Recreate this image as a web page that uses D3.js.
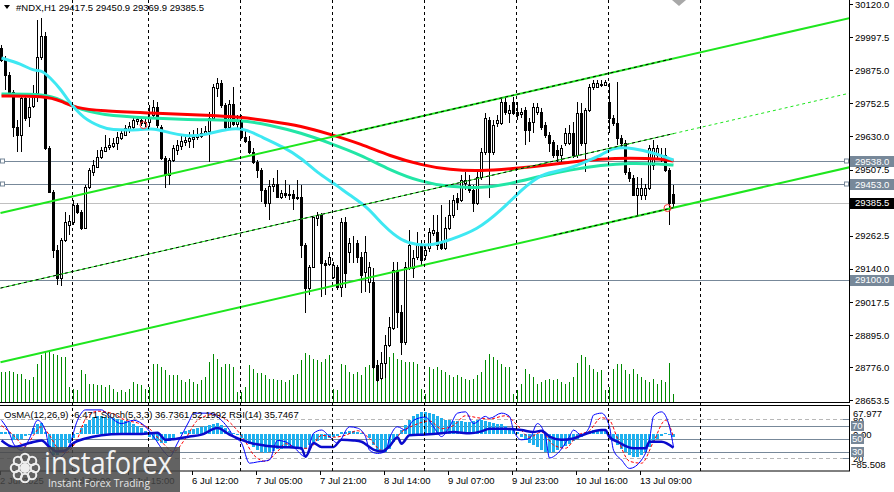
<!DOCTYPE html>
<html>
<head>
<meta charset="utf-8">
<script src="https://cdn.jsdelivr.net/npm/d3@7"></script>
<style>
html,body{margin:0;padding:0;background:#fff;}
svg{display:block;font-family:"Liberation Sans",Arial,sans-serif;}
</style>
</head>
<body>
<div id="chart"></div>
<script>
// ---- data ----
var opens = [29957,29913,29857,29794,29665,29635,29772,29702,29743,29791,
29924,30002,29587,29424,29210,29106,29247,29302,29313,29376,
29350,29291,29443,29498,29517,29554,29576,29591,29595,29606,
29624,29635,29658,29665,29687,29691,29680,29683,29709,29739,
29665,29550,29487,29543,29580,29595,29609,29613,29620,29628,
29632,29643,29650,29698,29809,29828,29746,29665,29750,29676,
29687,29628,29613,29572,29535,29506,29432,29384,29447,29454,
29406,29421,29413,29417,29402,29406,29228,29069,29147,29328,
29339,29162,29158,29110,29147,29073,29313,29202,29236,29236,
29184,29128,29091,29091,28784,28736,28792,28858,28921,29136,
28980,28869,29143,29143,29184,29228,29191,29217,29272,29276,
29236,29217,29291,29339,29402,29395,29458,29450,29432,29384,
29480,29572,29691,29572,29680,29680,29757,29717,29757,29720,
29713,29728,29683,29683,29720,29720,29672,29635,29609,29580,
29561,29606,29606,29643,29561,29717,29606,29728,29813,29813,
29820,29820,29757,29698,29680,29624,29606,29498,29476,29413,
29413,29413,29439,29524,29561,29580,29561,29506,29417.5];
var highs = [29968,29928,29868,29802,29691,29780,29791,29772,29820,30061,
30068,30016,29595,29432,29228,29254,29350,29339,29395,29384,
29358,29450,29513,29543,29580,29591,29635,29624,29624,29646,
29654,29672,29683,29702,29706,29702,29698,29746,29765,29757,
29672,29558,29550,29598,29617,29632,29635,29646,29654,29661,
29661,29668,29720,29824,29846,29839,29754,29765,29813,29709,
29709,29654,29632,29587,29543,29513,29439,29469,29476,29506,
29432,29469,29450,29432,29469,29450,29236,29154,29332,29350,
29347,29173,29202,29165,29154,29328,29332,29254,29261,29247,
29202,29261,29165,29143,28803,28832,28895,28963,29165,29165,
29006,29165,29284,29210,29276,29247,29228,29291,29339,29339,
29376,29332,29395,29413,29420,29487,29498,29487,29450,29498,
29587,29717,29702,29691,29709,29772,29772,29746,29776,29757,
29735,29739,29698,29754,29754,29735,29683,29646,29617,29598,
29598,29661,29672,29683,29757,29754,29735,29824,29839,29839,
29839,29839,29828,29709,29831,29635,29617,29513,29487,29480,
29476,29454,29598,29617,29598,29587,29587,29513,29450.9];
var lows = [29905,29802,29787,29628,29573,29573,29687,29665,29735,29757,
29913,29580,29421,29180,29080,29077,29239,29265,29302,29343,
29284,29288,29436,29484,29513,29547,29572,29580,29587,29580,
29617,29632,29643,29654,29672,29669,29665,29665,29698,29661,
29543,29439,29450,29535,29561,29580,29595,29587,29587,29617,
29624,29635,29535,29691,29776,29735,29654,29654,29669,29661,
29621,29606,29565,29528,29476,29387,29369,29321,29424,29402,
29399,29402,29395,29358,29395,29180,28977,29043,29143,29298,
29036,29043,29150,29103,29062,29036,29069,29162,29162,29162,
29051,29054,29051,28770,28721,28729,28736,28851,28914,28921,
28821,28858,29135,29106,29173,29154,29173,29202,29261,29210,
29210,29210,29284,29328,29358,29387,29432,29421,29350,29376,
29469,29561,29402,29561,29665,29672,29709,29680,29709,29691,
29698,29598,29609,29643,29709,29654,29624,29573,29550,29535,
29535,29595,29598,29550,29550,29595,29498,29720,29802,29809,
29813,29817,29643,29669,29598,29587,29487,29461,29413,29339,
29395,29395,29432,29506,29550,29535,29498,29302,29369.9];
var closes = [29913,29857,29794,29665,29635,29772,29698,29739,29791,29924,
30002,29587,29424,29210,29106,29247,29313,29317,29376,29350,
29291,29443,29506,29524,29554,29580,29591,29598,29606,29628,
29643,29661,29669,29691,29695,29680,29683,29698,29739,29672,
29550,29487,29543,29587,29598,29613,29617,29624,29628,29635,
29643,29650,29698,29813,29828,29746,29665,29750,29676,29687,
29628,29613,29572,29535,29506,29432,29384,29447,29454,29406,
29421,29413,29417,29402,29406,29228,29069,29147,29332,29339,
29162,29154,29184,29154,29073,29313,29125,29236,29236,29184,
29117,29202,29147,28777,28729,28792,28858,28925,29136,28980,
28869,29147,29228,29180,29228,29173,29210,29276,29284,29228,
29217,29291,29339,29395,29387,29469,29469,29432,29384,29480,
29572,29698,29572,29673,29691,29757,29720,29728,29717,29709,
29720,29654,29654,29739,29739,29665,29635,29606,29561,29561,
29587,29643,29643,29561,29717,29606,29728,29813,29828,29828,
29824,29831,29698,29680,29624,29606,29498,29476,29413,29439,
29439,29439,29587,29587,29587,29580,29506,29384,29385.5];
var volumes = [3000,3000,3070,3000,2830,2830,2330,2170,2500,3830,
4670,5000,5000,4830,4670,4500,4500,1500,1330,1170,
3170,2830,1830,1830,1670,1670,1500,1670,1330,1000,
1170,1000,1330,2000,1830,1670,1330,1500,3830,3830,
3500,3170,2670,2670,2670,2170,2000,2330,2000,1830,
2170,2500,4000,4830,4330,3500,3830,3830,3500,1000,
1000,1500,3670,3330,2900,2900,2670,2330,2330,2170,
2170,2000,2170,2670,2830,4170,4900,4670,4330,4170,
4000,4330,4670,1330,1170,3830,3670,3000,2830,3000,
2670,3500,3670,3500,3170,2830,3830,4500,4900,4330,
4170,4000,4000,4000,3830,1330,830,3500,3330,3500,
3170,3000,2670,2500,2670,2500,2330,2170,2330,2670,
3000,4170,4830,4500,4170,3830,3500,3500,830,1170,
1830,3330,2830,2500,1830,2000,2170,2330,2170,2330,
2000,1830,2000,2500,3900,4670,4500,3670,3330,3000,
3170,1170,1500,3330,3830,3830,3170,2830,3330,2830,
2500,2170,2000,2330,1830,2170,2000,3900,830];

// moving averages, sampled along the bars
var maSlowIdx = [0,11,15,18.5,25,37,50,60,67,75,82,90,97,105,112,120,127,135,142,150,157,165,168];
var maSlow = [29780,29780,29761,29735,29724,29717,29709,29702,29687,29669,29639,29602,29558,29524,29506,29502,29510,29521,29535,29547,29550,29547,29539];
var maMid = [29787,29787,29765,29735,29709,29698,29691,29691,29672,29643,29606,29561,29506,29461,29443,29439,29454,29484,29506,29524,29532,29528,29524];
var maFastIdx = [0,5,8,10,12,15,16.5,20.5,25,27,35,38,42,46,50,57,61,65,70.5,75,79,83,87,91.5,95.5,100,104,108,112,119,125,130,135,141.5,147,150,153,158,163,168];
var maFast = [29920,29898,29872,29876,29850,29802,29765,29695,29665,29654,29654,29661,29643,29632,29632,29661,29658,29628,29591,29550,29495,29458,29413,29369,29299,29243,29228,29228,29247,29284,29358,29432,29495,29506,29543,29561,29591,29587,29569,29543];

// drawn objects
var chanIdx = [-0.25, 212];
var chanUpper = [29347, 30068];
var chanMiddle = [29069, 29790];
var chanLower = [28795, 29516];
var hLevels = [29538.0, 29453.0, 29100.0];
var lastPrice = 29385.5;
var fractalIdx = [35.5, 166.5];
var fractalVal = [29672, 29365];

// oscillators
var osma = [6,6,5,-13,-13,-10,-3,-2,15,24,27,6,-31,-48,-48,-41,-31,-20,-8,3,
15,24,34,41,43,43,41,38,38,36,34,31,29,24,20,15,8,-6,-10,-15,
-20,-20,-15,-8,1,6,8,10,13,15,17,20,22,24,27,22,15,8,3,-1,
-8,-15,-22,-29,-36,-41,-43,-41,-38,-34,-34,-31,-29,-31,-34,-36,-34,-24,-17,-15,
-13,-10,-8,-6,-3,6,6,8,8,6,3,1,-8,-24,-36,-41,-41,-34,-17,-3,
10,22,34,43,48,52,52,50,48,43,38,34,34,31,31,31,29,29,31,34,
34,31,29,27,24,24,20,15,10,6,-6,-13,-20,-24,-29,-36,-41,-43,-41,-36,
-31,-27,-22,-15,-10,-6,-1,8,10,10,10,8,-6,-15,-24,-34,-41,-48,-52,-52,
-48,-41,-29,-17,-10,-5,2,-2,-6.471];
var stochIdx = [0,2,3,5,7,9,11,12,14,17,19,21,25,27,30,33,36,38,41,42,44,47,48,52,55,57,58,60,62,64,67,69,71,73,76,78,80,82,84,87,89,91,92,94,96,97,99,101,103,106,108,110,112,114,116,118,121,122,125,127,128,130,132,134,136,137,139,142,143,145,147,148,150,152,153,155,157,160,162,163,165,167,168];
var stochMain = [78,58,42,32,50,78,62,32,20,40,78,94,94,84,73,78,68,53,27,22,43,78,89,89,78,63,53,43,12,14,17,47,45,37,22,58,63,53,43,68,66,53,32,27,30,50,68,63,78,83,68,53,68,89,91,73,84,81,89,84,63,48,50,73,53,20,27,53,63,55,68,86,89,68,32,17,4,17,48,84,91,68,36.7361];
var signalIdx = [0,3,6,8,10,12,14,16,19,21,24,28,31,34,37,40,43,46,49,53,56,59,61,63,66,69,71,74,77,80,83,86,89,92,95,98,100,103,107,110,113,116,119,122,126,129,132,135,138,141,144,147,150,152,154,157,160,163,166,168];
var stochSignal = [70,55,38,55,68,55,35,28,50,80,92,88,78,74,65,45,30,50,78,87,80,62,45,25,15,30,42,35,35,55,52,55,62,50,32,45,60,70,77,65,70,85,82,80,85,70,52,60,40,35,55,62,82,78,50,15,12,45,78,52.1992];
var rsiIdx = [0,3,7,10,12,14,16,18,21,25,30,35,39,41,43,47,50,54,57,60,63,66,70,75,76,78,80,83,85,88,90,93,95,97,99,100,102,106,110,113,117,120,122,126,130,133,135,137,140,143,146,150,151,152,154,158,161,162,165,168];
var rsi = [47,37,43,47,37,30,32,43,50,55,57,57,59,48,49,53,56,66,56,48,42,39,37,35,22,43,37,37,48,47,45,33,30,38,52,42,55,56,58,60,58,61,65,65,63,60,62,53,48,50,57,63,63,52,45,35,35,45,45,35.7467];

// axes
var priceTicks = [30120.0,29997.5,29875.0,29752.5,29630.0,29507.5,29262.5,29140.0,29017.5,28895.0,28776.0,28653.5];
var sepIdx = [18,37,60,83,106,129,152,175];
var timeIdx = [0,16,32,48,64,80,96,112,128,144,160];
var timeLabels = ["2 Jul 2025","2 Jul 23:00","3 Jul 15:00","6 Jul 12:00","7 Jul 05:00","7 Jul 21:00","8 Jul 14:00","9 Jul 07:00","9 Jul 23:00","10 Jul 16:00","13 Jul 09:00"];
var oscLevels = [80,70,50,30,20];

// ---- drawing ----
var W = 894, H = 492, R = 849;
var svg = d3.select('#chart').append('svg').attr('width',W).attr('height',H);
svg.append('rect').attr('width',W).attr('height',H).attr('fill','#fff');

var x = d3.scaleLinear().domain([0,168]).range([1.5,673.5]);
var y = d3.scaleLinear().domain([28653.5,30120]).range([400.4,4]);
var yVol = d3.scaleLinear().domain([0,5000]).range([402,352]);
var yOsc = d3.scaleLinear().domain([0,100]).range([471,406]);
var yOsma = d3.scaleLinear().domain([-85.508,67.977]).range([471,405]);
function px(v){ return Math.round(v)+0.5; }

var defs = svg.append('defs');
defs.append('clipPath').attr('id','cMain').append('rect').attr('x',0).attr('y',0).attr('width',R).attr('height',402);
defs.append('clipPath').attr('id','cOsc').append('rect').attr('x',0).attr('y',405).attr('width',R).attr('height',66);

var main = svg.append('g').attr('clip-path','url(#cMain)');
var osc = svg.append('g').attr('clip-path','url(#cOsc)');

// day separators
svg.append('g').selectAll('line').data(sepIdx).enter().append('line')
  .attr('x1',function(d){return px(x(d)-1.5);}).attr('x2',function(d){return px(x(d)-1.5);})
  .attr('y1',0).attr('y2',471)
  .attr('stroke','#000').attr('stroke-dasharray','3,3');

// horizontal levels
main.selectAll('line.lvl').data(hLevels).enter().append('line')
  .attr('x1',0).attr('x2',R).attr('y1',function(d){return px(y(d));}).attr('y2',function(d){return px(y(d));})
  .attr('stroke','#778899');
main.append('line').attr('x1',0).attr('x2',R).attr('y1',px(y(lastPrice))).attr('y2',px(y(lastPrice))).attr('stroke','#c0c0c0');

// volumes
main.append('g').attr('shape-rendering','crispEdges')
  .selectAll('rect').data(volumes).enter().append('rect')
  .attr('x',function(d,i){return x(i)-0.5;}).attr('width',1)
  .attr('y',function(d){return Math.round(yVol(d));})
  .attr('height',function(d){return yVol(0)-Math.round(yVol(d));})
  .attr('fill','#008a00');

// candles
var candles = d3.range(closes.length).map(function(i){
  return {i:i,o:opens[i],h:highs[i],l:lows[i],c:closes[i]};
});
var cg = main.append('g').attr('shape-rendering','crispEdges');
cg.selectAll('line').data(candles).enter().append('line')
  .attr('x1',function(d){return x(d.i);}).attr('x2',function(d){return x(d.i);})
  .attr('y1',function(d){return Math.round(y(d.h));}).attr('y2',function(d){return Math.round(y(d.l));})
  .attr('stroke','#000');
cg.selectAll('rect').data(candles).enter().append('rect')
  .attr('x',function(d){return x(d.i)-1;}).attr('width',2)
  .attr('y',function(d){return px(y(Math.max(d.o,d.c)));})
  .attr('height',function(d){return Math.max(0,Math.round(y(Math.min(d.o,d.c)))-Math.round(y(Math.max(d.o,d.c))));})
  .attr('fill',function(d){return d.c>=d.o?'#fff':'#000';}).attr('stroke','#000');

// moving averages
var maLine = d3.line().x(function(d){return x(d[0]);}).y(function(d){return y(d[1]);}).curve(d3.curveBasis);
main.append('path').attr('d',maLine(d3.zip(maSlowIdx,maMid))).attr('fill','none').attr('stroke','#22e6a6').attr('stroke-width',3);
main.append('path').attr('d',maLine(d3.zip(maSlowIdx,maSlow))).attr('fill','none').attr('stroke','#ff0000').attr('stroke-width',3);
main.append('path').attr('d',maLine(d3.zip(maFastIdx,maFast))).attr('fill','none').attr('stroke','#3ee8f2').attr('stroke-width',3);

// channel
function chanAt(arr,i){ return arr[0]+(arr[1]-arr[0])*(i-chanIdx[0])/(chanIdx[1]-chanIdx[0]); }
function seg(arr,i0,i1){ return [[x(i0),y(chanAt(arr,i0))],[x(i1),y(chanAt(arr,i1))]]; }
var segLine = d3.line();
var lime = '#1ee61e';
main.append('path').attr('d',segLine(seg(chanUpper,chanIdx[0],chanIdx[1]))).attr('stroke',lime).attr('stroke-width',2).attr('fill','none');
main.append('path').attr('d',segLine(seg(chanLower,chanIdx[0],chanIdx[1]))).attr('stroke',lime).attr('stroke-width',2).attr('fill','none');
main.append('path').attr('d',segLine(seg(chanMiddle,chanIdx[0],168))).attr('stroke',lime).attr('stroke-width',1).attr('fill','none');
main.append('path').attr('d',segLine(seg(chanMiddle,168,chanIdx[1]))).attr('stroke',lime).attr('stroke-width',1).attr('stroke-dasharray','3,3').attr('fill','none');
main.append('path').attr('d',segLine(seg(chanMiddle,chanIdx[0],168))).attr('stroke','#000').attr('stroke-width',1).attr('stroke-dasharray','3,3').attr('fill','none');
main.append('path').attr('d',segLine(seg(chanUpper,85,168))).attr('stroke','#000').attr('stroke-width',1).attr('stroke-dasharray','3,3').attr('fill','none');
main.append('path').attr('d',segLine(seg(chanLower,138,168))).attr('stroke','#000').attr('stroke-width',1).attr('stroke-dasharray','3,3').attr('fill','none');

// fractal circles
main.selectAll('circle.fr').data(fractalIdx).enter().append('circle')
  .attr('cx',function(d){return x(d);}).attr('cy',function(d,i){return y(fractalVal[i]);})
  .attr('r',3.5).attr('fill','none').attr('stroke','#ff3030');

// level squares
[0.5,R-4.5].forEach(function(sx){
  svg.selectAll(null).data(hLevels.slice(0,2)).enter().append('rect')
    .attr('x',sx).attr('y',function(d){return px(y(d))-2.5;}).attr('width',4).attr('height',4)
    .attr('fill','#fff').attr('stroke','#778899');
});

// frames
svg.append('line').attr('x1',R+0.5).attr('x2',R+0.5).attr('y1',0).attr('y2',403).attr('stroke','#000');
svg.append('line').attr('x1',0).attr('x2',R+1).attr('y1',402.5).attr('y2',402.5).attr('stroke','#000');
svg.append('rect').attr('x',-1).attr('y',405.5).attr('width',R+1.5).attr('height',65.5).attr('fill','none').attr('stroke','#000');

// price axis
var ax = svg.append('g').attr('font-size','9.5px').attr('fill','#000');
ax.selectAll('line').data(priceTicks).enter().append('line')
  .attr('x1',R).attr('x2',R+4).attr('y1',function(d){return px(y(d));}).attr('y2',function(d){return px(y(d));}).attr('stroke','#000');
ax.selectAll('text').data(priceTicks).enter().append('text')
  .attr('x',855).attr('y',function(d){return y(d)+3.5;}).text(function(d){return d3.format('.1f')(d);});

// price label boxes
var boxes = hLevels.map(function(v){return {v:v,bg:'#778899'};}).concat([{v:lastPrice,bg:'#000'}]);
var bx = svg.append('g').attr('font-size','9.5px');
bx.selectAll('rect').data(boxes).enter().append('rect')
  .attr('x',R+1).attr('y',function(d){return Math.round(y(d.v))-5;}).attr('width',44).attr('height',11).attr('fill',function(d){return d.bg;});
bx.selectAll('text').data(boxes).enter().append('text')
  .attr('x',855).attr('y',function(d){return y(d.v)+3.5;}).attr('fill','#fff').text(function(d){return d3.format('.1f')(d.v);});

// top-right shift marker
svg.append('path').attr('d','M672,0L686,0L679,6Z').attr('fill','#a8a8a8');

// header
svg.append('path').attr('d','M4,5L10,5L7,9Z').attr('fill','#000');
svg.append('text').attr('x',16).attr('y',11).attr('font-size','9.5px').attr('fill','#000')
  .text('#NDX,H1  ' + [opens[168],highs[168],lows[168],closes[168]].map(d3.format('.1f')).join(' '));

// ---- oscillator panel ----
osc.selectAll('line.lev').data(oscLevels).enter().append('line')
  .attr('x1',0).attr('x2',R).attr('y1',function(d){return px(yOsc(d));}).attr('y2',function(d){return px(yOsc(d));})
  .attr('stroke',function(d){return (d===80||d===20)?'#b8b8b8':'#778899';})
  .attr('stroke-dasharray',function(d){return (d===80||d===20)?'4,3':null;});
osc.append('g').attr('shape-rendering','crispEdges')
  .selectAll('rect').data(osma).enter().append('rect')
  .attr('x',function(d,i){return x(i)-1.5;}).attr('width',3)
  .attr('y',function(d){return Math.min(yOsma(d),yOsma(0));})
  .attr('height',function(d){return Math.abs(yOsma(d)-yOsma(0));})
  .attr('fill','#1eb0ee');
var oscLine = d3.line().x(function(d){return x(d[0]);}).y(function(d){return yOsc(d[1]);}).curve(d3.curveMonotoneX);
osc.append('path').attr('d',oscLine(d3.zip(signalIdx,stochSignal))).attr('fill','none').attr('stroke','#ff0000').attr('stroke-dasharray','3,2');
osc.append('path').attr('d',oscLine(d3.zip(stochIdx,stochMain))).attr('fill','none').attr('stroke','#0000ff');
osc.append('path').attr('d',oscLine(d3.zip(rsiIdx,rsi))).attr('fill','none').attr('stroke','#0a0acc').attr('stroke-width',2.5);

svg.append('text').attr('x',4).attr('y',418).attr('font-size','9.5px').attr('fill','#000')
  .text('OsMA(12,26,9) ' + osma[168] + ' Stoch(5,3,3) ' + d3.format('.4f')(stochMain[stochMain.length-1]) + ' ' + d3.format('.4f')(stochSignal[stochSignal.length-1]) + ' RSI(14) ' + d3.format('.4f')(rsi[rsi.length-1]));

// oscillator scale labels
var ol = svg.append('g').attr('font-size','9.5px');
ol.append('text').attr('x',853).attr('y',424).text('80');
ol.append('text').attr('x',853).attr('y',417).text(d3.format('.3f')(yOsma.domain()[1]));
ol.append('text').attr('x',853).attr('y',438).text('0.00');
ol.append('text').attr('x',853).attr('y',462).text('20');
ol.append('text').attr('x',851).attr('y',468).text(d3.format('.3f')(yOsma.domain()[0]));
var boxLv = [70,50,30];
ol.selectAll('rect').data(boxLv).enter().append('rect')
  .attr('x',851).attr('y',function(d){return Math.round(yOsc(d))-5;}).attr('width',13).attr('height',10).attr('fill','#778899');
ol.selectAll('text.bl').data(boxLv).enter().append('text').attr('class','bl')
  .attr('x',852).attr('y',function(d){return yOsc(d)+3.5;}).attr('fill','#fff').text(function(d){return d;});
ol.selectAll('line').data(oscLevels).enter().append('line')
  .attr('x1',R-6).attr('x2',R).attr('y1',function(d){return px(yOsc(d));}).attr('y2',function(d){return px(yOsc(d));})
  .attr('stroke','#778899');

// time axis
var tx = svg.append('g').attr('font-size','9.5px');
tx.selectAll('line').data(timeIdx).enter().append('line')
  .attr('x1',function(d){return px(x(d)-1.5);}).attr('x2',function(d){return px(x(d)-1.5);})
  .attr('y1',471).attr('y2',475).attr('stroke','#000');
tx.selectAll('text').data(timeIdx).enter().append('text')
  .attr('x',function(d){return x(d)-1.5;}).attr('y',484).text(function(d,i){return timeLabels[i];});

// watermark (covers the first time labels, as in the original)
var wm = svg.append('g');
wm.append('rect').attr('x',0).attr('y',447).attr('width',180).attr('height',45).attr('fill','rgba(70,70,70,0.85)');
var petals = d3.range(8);
wm.selectAll('circle').data(petals).enter().append('circle')
  .attr('cx',function(d){return 25+10*Math.cos(d*Math.PI/4);}).attr('cy',function(d){return 468+10*Math.sin(d*Math.PI/4);})
  .attr('r',4.2).attr('fill','none').attr('stroke','#eee').attr('stroke-width',2);
wm.append('circle').attr('cx',25).attr('cy',468).attr('r',5).attr('fill','#eee');
wm.append('text').attr('x',44).attr('y',474).attr('font-family','"Open Sans",sans-serif').attr('font-size','31px')
  .attr('fill','#f2f2f2').attr('textLength',128).attr('lengthAdjust','spacingAndGlyphs').text('instaforex');
wm.append('text').attr('x',48).attr('y',487).attr('font-family','"Open Sans",sans-serif').attr('font-size','10.5px')
  .attr('fill','#e6e6e6').attr('textLength',102).attr('lengthAdjust','spacingAndGlyphs').text('Instant Forex Trading');
</script>
</body>
</html>
